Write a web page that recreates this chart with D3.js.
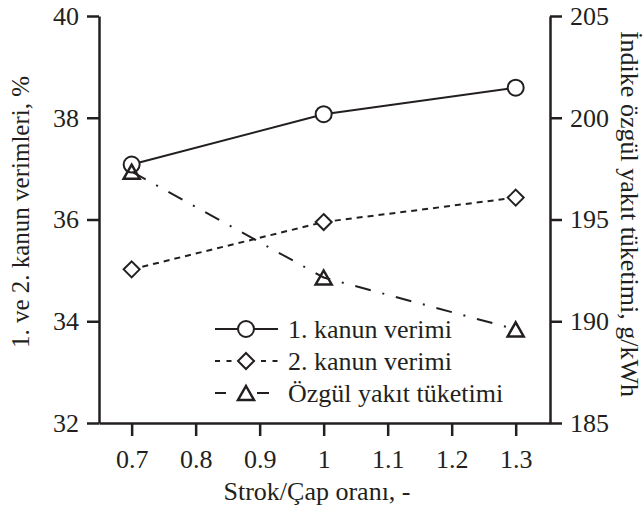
<!DOCTYPE html>
<html>
<head>
<meta charset="utf-8">
<script src="https://cdn.jsdelivr.net/npm/d3@7"></script>
<style>
    body { margin: 0; background: #fff; }
    .axis path, .axis line { stroke: #231f20; stroke-width: 2.5; }
</style>
</head>
<body>
<svg id="chart" width="644" height="509"></svg>
<script>
// values
const ratios = [0.7, 1.0, 1.3];
const firstLaw = [37.08, 38.07, 38.59];
const secondLaw = [35.02, 35.95, 36.43];
const fuelCons = [197.35, 192.15, 189.6];

const xTicks = [0.7, 0.8, 0.9, 1, 1.1, 1.2, 1.3];
const leftTicks = [32, 34, 36, 38, 40];
const rightTicks = [185, 190, 195, 200, 205];

const legendNames = ["1. kanun verimi", "2. kanun verimi", "Özgül yakıt tüketimi"];

const svg = d3.select("#chart");
const ink = "#231f20";
const font = "Liberation Serif";
const fs = 26;
const plotLeft = 99, plotRight = 550, plotTop = 16, plotBottom = 423;

const x = d3.scaleLinear().domain([0.649, 1.3536]).range([plotLeft, plotRight]);
const yL = d3.scaleLinear().domain([32, 40]).range([plotBottom, plotTop]);
const yR = d3.scaleLinear().domain([185, 205]).range([plotBottom, plotTop]);

function styleAxis(g) {
    g.attr("class", "axis").attr("font-family", font).attr("font-size", fs);
    g.selectAll("text").attr("fill", ink);
}

svg.append("g")
    .attr("transform", `translate(0,${plotBottom})`)
    .call(d3.axisBottom(x).tickValues(xTicks).tickFormat(d3.format("")).tickSize(13).tickSizeOuter(0).tickPadding(14))
    .call(styleAxis);

svg.append("g")
    .attr("transform", `translate(${plotLeft},0)`)
    .call(d3.axisLeft(yL).tickValues(leftTicks).tickSize(12).tickSizeOuter(0).tickPadding(8))
    .call(styleAxis);

svg.append("g")
    .attr("transform", `translate(${plotRight},0)`)
    .call(d3.axisRight(yR).tickValues(rightTicks).tickSize(12).tickSizeOuter(0).tickPadding(8))
    .call(styleAxis);

function label(sel) {
    return sel.attr("font-family", font).attr("font-size", fs).attr("fill", ink);
}

// axis titles
svg.append("text")
    .attr("x", 317).attr("y", 500)
    .attr("text-anchor", "middle")
    .call(label)
    .text("Strok/Çap oranı, -");

svg.append("text")
    .attr("transform", "translate(29,212) rotate(-90)")
    .attr("text-anchor", "middle")
    .call(label)
    .attr("font-size", 25)
    .text("1. ve 2. kanun verimleri, %");

svg.append("text")
    .attr("transform", "translate(621,214) rotate(90)")
    .attr("text-anchor", "middle")
    .call(label)
    .text("İndike özgül yakıt tüketimi, g/kWh");

const series = [
    { name: legendNames[0], values: firstLaw, y: yL, dash: null, legendDash: null, len: 63, marker: "circle" },
    { name: legendNames[1], values: secondLaw, y: yL, dash: "6,5", legendDash: "5,6.5", len: 63, marker: "diamond" },
    { name: legendNames[2], values: fuelCons, y: yR, dash: "16,12,2,12", legendDash: "11,31,12", len: 54, marker: "triangle" }
];

const symbols = {
    circle: d3.symbol().type(d3.symbolCircle).size(Math.PI * 64),
    diamond: "M0,-8L8,0L0,8L-8,0Z",
    triangle: "M0,-7L8,7L-8,7Z"
};

function drawMarker(g, kind, cx, cy) {
    const p = g.append("path")
        .attr("transform", `translate(${cx},${cy})`)
        .attr("fill", "#fff")
        .attr("stroke", ink)
        .attr("stroke-width", 2);
    if (kind === "circle") p.attr("d", symbols.circle());
    else p.attr("d", symbols[kind]);
    if (kind === "triangle") p.attr("stroke-width", 2.5).attr("fill", "none");
}

series.forEach(s => {
    const line = d3.line()
        .x((d, i) => x(ratios[i]))
        .y(d => s.y(d));

    svg.append("path")
        .datum(s.values)
        .attr("d", line)
        .attr("fill", "none")
        .attr("stroke", ink)
        .attr("stroke-width", 2)
        .attr("stroke-dasharray", s.dash);
});

series.forEach(s => {
    const g = svg.append("g");
    s.values.forEach((v, i) => drawMarker(g, s.marker, x(ratios[i]), s.y(v)));
});

// legend
const legend = svg.append("g").attr("transform", "translate(215,329)");
series.forEach((s, i) => {
    const row = legend.append("g").attr("transform", `translate(0,${i * 32})`);
    row.append("line")
        .attr("x1", 0).attr("x2", s.len)
        .attr("stroke", ink)
        .attr("stroke-width", 2)
        .attr("stroke-dasharray", s.legendDash);
    drawMarker(row, s.marker, 31, 0);
    row.append("text")
        .attr("x", 73).attr("dy", "0.33em")
        .call(label)
        .text(s.name);
});
</script>
</body>
</html>
